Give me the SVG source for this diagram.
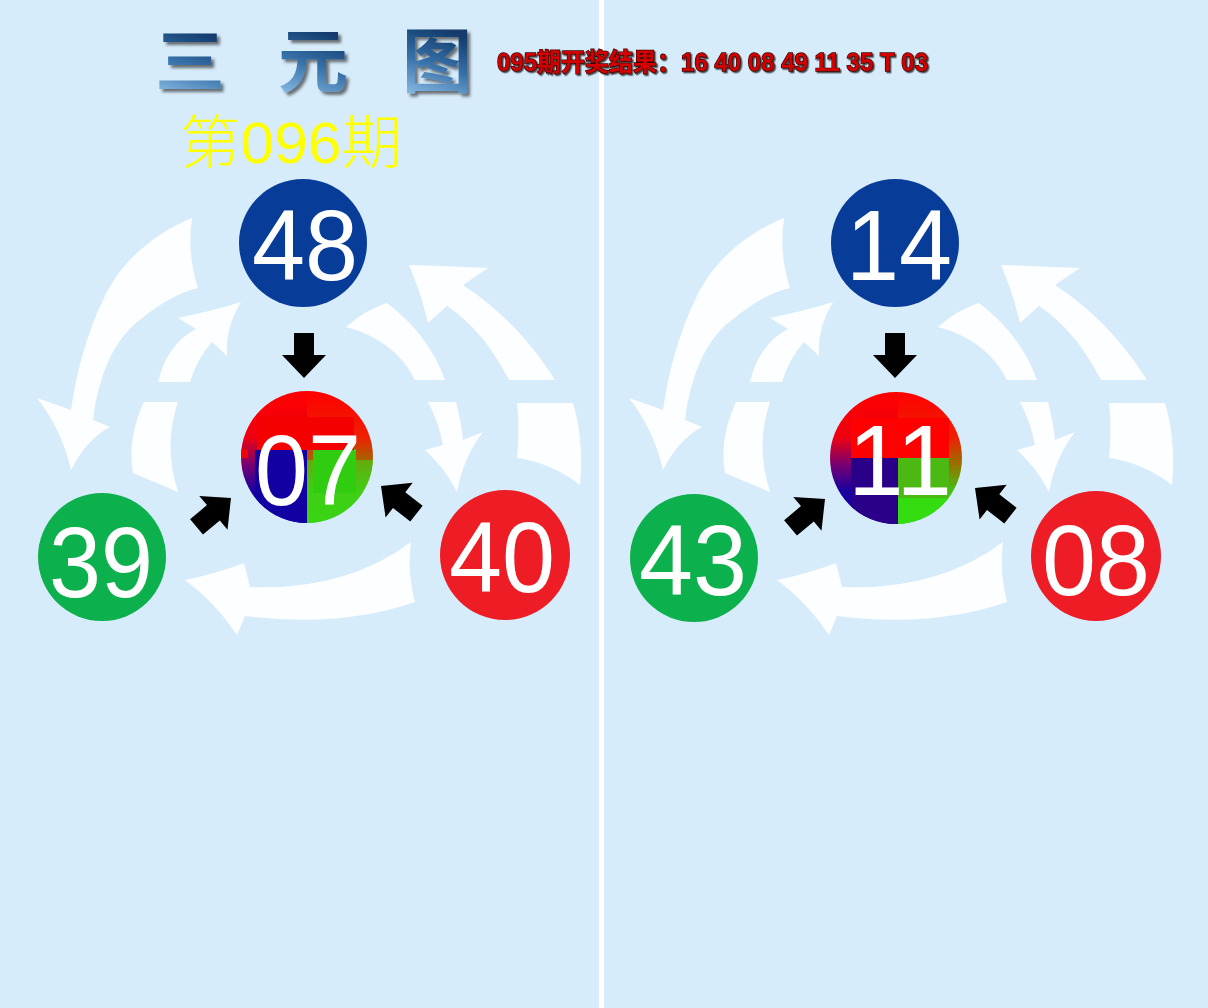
<svg xmlns="http://www.w3.org/2000/svg" xmlns:xlink="http://www.w3.org/1999/xlink" width="1208" height="1008" viewBox="0 0 1208 1008">
<style>
.num{font-family:"Liberation Sans",Arial,sans-serif;font-size:100px;fill:#ffffff;text-anchor:middle}
.white{fill:#fdfeff}
.blk{fill:#000000}
.title{font-family:"Liberation Serif","Noto Sans CJK SC",serif;font-size:70px;font-weight:700;fill:url(#tg);text-anchor:middle}
</style>
<defs>
<linearGradient id="tg" x1="0.4" y1="0" x2="0.1" y2="1">
<stop offset="0" stop-color="#123b6b"/>
<stop offset="0.45" stop-color="#3670a8"/>
<stop offset="1" stop-color="#98c8ee"/>
</linearGradient>
<filter id="sh" x="-20%" y="-20%" width="140%" height="140%">
<feDropShadow dx="3" dy="3" stdDeviation="1.5" flood-color="#2a2a2a" flood-opacity="0.65"/>
</filter>
<filter id="sh2" x="-5%" y="-30%" width="110%" height="160%">
<feDropShadow dx="1.5" dy="1.5" stdDeviation="0.6" flood-color="#222" flood-opacity="0.8"/>
</filter>
<linearGradient id="gl" gradientUnits="userSpaceOnUse" x1="0" y1="391" x2="0" y2="524">
<stop offset="0" stop-color="#ff0000"/>
<stop offset="0.35" stop-color="#ee0010"/>
<stop offset="0.55" stop-color="#7a0070"/>
<stop offset="0.75" stop-color="#1a00a0"/>
<stop offset="1" stop-color="#1000a0"/>
</linearGradient>
<linearGradient id="gr" gradientUnits="userSpaceOnUse" x1="0" y1="391" x2="0" y2="524">
<stop offset="0" stop-color="#ff0000"/>
<stop offset="0.35" stop-color="#ee2000"/>
<stop offset="0.55" stop-color="#9a7000"/>
<stop offset="0.75" stop-color="#44c010"/>
<stop offset="1" stop-color="#33d010"/>
</linearGradient>
<clipPath id="c1"><circle cx="307" cy="457" r="66"/></clipPath>
<clipPath id="c2"><circle cx="896" cy="458" r="66"/></clipPath>
<path id="bar" d="M0,0 L-23,-22 L-23,-10 L-45,-10 L-45,10 L-23,10 L-23,22 Z"/>
<g id="ring">
<path class="white" d="M192,218 C158,232 122,258 103,300 C86,335 76,375 71,410 L37,398 Q62,430 71,470 Q86,440 110,427 L93,420 C99,372 116,337 141,319 C161,303 178,293 198,288 Q187,255 192,218 Z"/>
<path class="white" d="M158,382 Q167,344 196,329 L178,318 Q212,311 241,302 Q225,328 227,356 L212,342 Q197,359 190,382 Z"/>
<path class="white" d="M144,402 L178,402 Q163,445 178,492 L133,473 Q127,438 144,402 Z"/>
<path class="white" d="M509,380 C491,345 471,322 447,306 L428,323 Q420,290 409,265 Q448,266 488,268 L463,285 C504,312 533,345 555,380 Z"/>
<path class="white" d="M346,327 Q365,310 387,303 Q429,335 445,380 L415,380 Q395,340 346,327 Z"/>
<path class="white" d="M428,402 L456,402 Q461,420 463,440 L483,432 Q463,458 457,492 Q445,468 425,450 L443,445 Q438,420 428,402 Z"/>
<path class="white" d="M517,403 L573,403 Q584,440 580,485 Q552,463 517,458 Q520,430 517,403 Z"/>
<path class="white" d="M411,542 Q345,591 250,587 L244,563 Q215,574 185,580 Q215,602 237,635 L245,616 Q340,628 415,602 Q407,572 411,542 Z"/>
</g>
</defs>
<rect x="0" y="0" width="1208" height="1008" fill="#d7ecfb"/>
<rect x="599" y="0" width="5" height="1008" fill="#ffffff"/>

<g id="connectors">
<use xlink:href="#ring"/>
<use xlink:href="#ring" transform="translate(592,0)"/>
<use xlink:href="#bar" class="blk" transform="translate(304,378) rotate(90)"/>
<use xlink:href="#bar" class="blk" transform="translate(231,498) rotate(-40)"/>
<use xlink:href="#bar" class="blk" transform="translate(381,486) rotate(218)"/>
<use xlink:href="#bar" class="blk" transform="translate(895,378) rotate(90)"/>
<use xlink:href="#bar" class="blk" transform="translate(825,499) rotate(-40)"/>
<use xlink:href="#bar" class="blk" transform="translate(975,488) rotate(218)"/>
</g>

<g id="title">
<text class="title" x="190" y="87" filter="url(#sh)">三</text>
<text class="title" x="313" y="87" filter="url(#sh)">元</text>
<text class="title" x="437" y="87" filter="url(#sh)">图</text>
</g>
<g id="header">
<text x="497" y="71" textLength="431" lengthAdjust="spacingAndGlyphs" font-family="'Liberation Sans','Noto Sans CJK SC',sans-serif" font-size="25" font-weight="700" fill="#d40000" stroke="#3a0000" stroke-width="1.4" paint-order="stroke" filter="url(#sh2)">095期开奖结果：16 40 08 49 11 35 T 03</text>
</g>
<g id="period">
<text x="180" y="163" textLength="222" lengthAdjust="spacingAndGlyphs" font-family="'Liberation Sans','Noto Sans CJK SC',sans-serif" font-size="58" font-weight="300" fill="#ffff00">第096期</text>
</g>

<g id="node-48">
<circle cx="303" cy="243" r="64" fill="#083c99"/>
<text class="num" x="305" y="280" textLength="106" lengthAdjust="spacingAndGlyphs">48</text>
</g>
<g id="node-39">
<circle cx="102" cy="557" r="64" fill="#0cb04c"/>
<text class="num" x="101" y="597" textLength="104" lengthAdjust="spacingAndGlyphs">39</text>
</g>
<g id="node-40">
<circle cx="505" cy="555" r="65" fill="#ee1c25"/>
<text class="num" x="502" y="592" textLength="106" lengthAdjust="spacingAndGlyphs">40</text>
</g>
<g id="node-07">
<g clip-path="url(#c1)">
<rect x="240" y="390" width="67" height="135" fill="url(#gl)"/>
<rect x="307" y="390" width="68" height="135" fill="url(#gr)"/>
<rect x="255" y="450" width="52" height="74" fill="#1200a2"/>
<rect x="307" y="460" width="68" height="64" fill="#3cd818" opacity="0.6"/>
<rect x="313" y="449" width="43" height="44" fill="#30cc10"/>
<rect x="257" y="417" width="97" height="33" fill="#f50000"/>
<rect x="230" y="449" width="18" height="9" fill="#f50000"/>
</g>
<text class="num" x="308" y="505" textLength="106" lengthAdjust="spacingAndGlyphs">07</text>
</g>

<g id="node-14">
<circle cx="895" cy="243" r="64" fill="#083c99"/>
<text class="num" x="899" y="280" textLength="106" lengthAdjust="spacingAndGlyphs">14</text>
</g>
<g id="node-43">
<circle cx="694" cy="558" r="64" fill="#0cb04c"/>
<text class="num" x="693" y="595" textLength="108" lengthAdjust="spacingAndGlyphs">43</text>
</g>
<g id="node-08">
<circle cx="1096" cy="556" r="65" fill="#ee1c25"/>
<text class="num" x="1096" y="595" textLength="108" lengthAdjust="spacingAndGlyphs">08</text>
</g>
<g id="node-11">
<g clip-path="url(#c2)">
<rect x="829" y="392" width="69" height="135" fill="url(#gl)"/>
<rect x="898" y="392" width="66" height="135" fill="url(#gr)"/>
<rect x="851" y="458" width="47" height="68" fill="#2a0088"/>
<rect x="898" y="458" width="51" height="68" fill="#33dd10"/>
<rect x="898" y="458" width="51" height="40" fill="#4cb814"/>
<rect x="851" y="418" width="98" height="40" fill="#ff0000"/>
</g>
<text class="num" x="900" y="495" textLength="104" lengthAdjust="spacingAndGlyphs">11</text>
</g>
</svg>
